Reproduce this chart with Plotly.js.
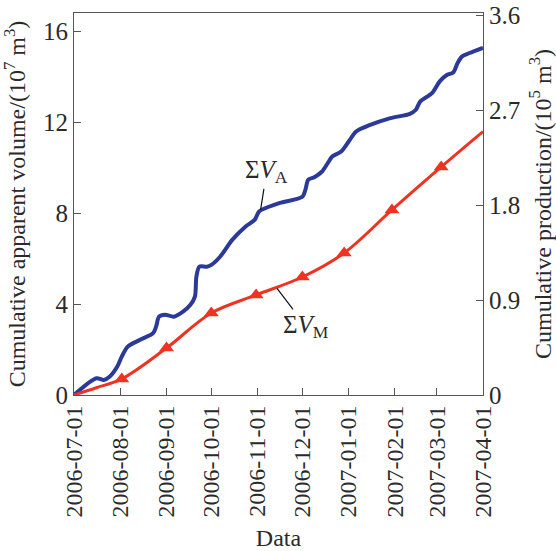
<!DOCTYPE html>
<html>
<head>
<meta charset="utf-8">
<script src="https://cdn.plot.ly/plotly-3.0.1.min.js"></script>
<style>
  html, body { margin: 0; padding: 0; background: #fff; }
  #chart { width: 556px; height: 551px; }
</style>
</head>
<body>
<div id="chart"></div>
<script>
// Cumulative apparent volume ΣV_A (10^7 m^3), left axis
const vaDates = [
  '2006-07-01','2006-07-16','2006-07-21','2006-07-25','2006-07-30','2006-08-02','2006-08-06',
  '2006-08-14','2006-08-23','2006-08-25','2006-08-27','2006-08-31','2006-09-06','2006-09-12',
  '2006-09-17','2006-09-20','2006-09-21','2006-09-23','2006-09-28','2006-10-01','2006-10-07',
  '2006-10-15','2006-10-24','2006-10-30','2006-11-02','2006-11-09','2006-11-16','2006-12-01',
  '2006-12-03','2006-12-05','2006-12-09','2006-12-14','2006-12-18','2006-12-21','2006-12-27',
  '2007-01-01','2007-01-06','2007-01-15','2007-01-29','2007-02-11','2007-02-15','2007-02-18',
  '2007-02-26','2007-03-03','2007-03-08','2007-03-12','2007-03-15','2007-03-18','2007-03-23',
  '2007-04-01'
];
const vaValues = [
  0, 0.74, 0.66, 0.81, 1.25, 1.69, 2.13,
  2.42, 2.72, 3.01, 3.45, 3.53, 3.45, 3.67,
  3.97, 4.33, 5.21, 5.65, 5.65, 5.73, 6.10,
  6.83, 7.42, 7.71, 8.08, 8.30, 8.46, 8.73,
  9.03, 9.48, 9.59, 9.83, 10.21, 10.50, 10.72,
  11.16, 11.60, 11.88, 12.19, 12.38, 12.56, 12.93,
  13.30, 13.81, 14.10, 14.20, 14.62, 14.91, 15.06,
  15.29
];

// Cumulative production ΣV_M (10^5 m^3), right axis
const vmDates = [
  '2006-07-01','2006-07-16','2006-08-02','2006-09-01','2006-10-01','2006-10-31',
  '2006-12-01','2006-12-29','2007-01-30','2007-03-04','2007-04-01'
];
const vmValues = [
  0, 0.069, 0.152, 0.445, 0.777, 0.948,
  1.118, 1.346, 1.754, 2.161, 2.496
];
// dates of the triangle markers on ΣV_M
const vmMarkerDates = [
  '2006-08-02','2006-09-01','2006-10-01','2006-10-31',
  '2006-12-01','2006-12-29','2007-01-30','2007-03-04'
];
const vmMarkerValues = [0.152, 0.445, 0.777, 0.948, 1.118, 1.346, 1.754, 2.161];

const xTicks = [
  '2006-07-01','2006-08-01','2006-09-01','2006-10-01','2006-11-01',
  '2006-12-01','2007-01-01','2007-02-01','2007-03-01','2007-04-01'
];
const yLeftTicks = [0, 4, 8, 12, 16];
const yRightTicks = [0, 0.9, 1.8, 2.7, 3.6];
const yRightTickText = ['0', '0.9', '1.8', '2.7', '3.6'];

const FONT = 'Liberation Serif, Times New Roman, Times, serif';
const BLUE = '#2b3a98';
const RED = '#ee3322';
const AXIS = '#555555';
const TXT = '#2a2a2a';

const traces = [
  {
    x: vaDates, y: vaValues, type: 'scatter', mode: 'lines',
    line: { color: BLUE, width: 4, shape: 'spline', smoothing: 0.8 },
    yaxis: 'y', hoverinfo: 'skip'
  },
  {
    x: vmDates, y: vmValues, type: 'scatter', mode: 'lines',
    line: { color: RED, width: 3, shape: 'spline', smoothing: 1 },
    yaxis: 'y2', hoverinfo: 'skip'
  },
  {
    x: vmMarkerDates, y: vmMarkerValues, type: 'scatter', mode: 'markers',
    marker: { symbol: 'triangle-up', size: 13, color: RED },
    yaxis: 'y2', hoverinfo: 'skip'
  }
];

const layout = {
  width: 556, height: 551,
  margin: { l: 74, r: 73, t: 13, b: 156, pad: 0 },
  paper_bgcolor: '#ffffff', plot_bgcolor: '#ffffff',
  showlegend: false,
  font: { family: FONT, size: 24, color: TXT },
  xaxis: {
    type: 'date',
    range: ['2006-07-01', '2007-04-01'],
    tickvals: xTicks, ticktext: xTicks,
    tickangle: -90,
    ticks: 'inside', ticklen: 7, tickcolor: AXIS, tickwidth: 1,
    showline: true, linecolor: AXIS, linewidth: 1, mirror: true,
    showgrid: false, zeroline: false,
    tickfont: { family: FONT, size: 24, color: TXT },
    title: { text: 'Data', font: { family: FONT, size: 24, color: TXT }, standoff: 14 }
  },
  yaxis: {
    range: [0, 16.82],
    tickvals: yLeftTicks,
    ticks: 'inside', ticklen: 7, tickcolor: AXIS, tickwidth: 1,
    showline: true, linecolor: AXIS, linewidth: 1,
    showgrid: false, zeroline: false,
    tickfont: { family: FONT, size: 25, color: TXT },
    title: { text: 'Cumulative apparent volume/(10<sup>7</sup> m<sup>3</sup>)',
             font: { family: FONT, size: 24, color: TXT }, standoff: 10 }
  },
  yaxis2: {
    overlaying: 'y', side: 'right',
    range: [0, 3.62],
    tickvals: yRightTicks, ticktext: yRightTickText,
    ticks: 'inside', ticklen: 7, tickcolor: AXIS, tickwidth: 1,
    showline: true, linecolor: AXIS, linewidth: 1,
    showgrid: false, zeroline: false,
    tickfont: { family: FONT, size: 25, color: TXT },
    title: { text: 'Cumulative production/(10<sup>5</sup> m<sup>3</sup>)',
             font: { family: FONT, size: 24, color: TXT }, standoff: 14 }
  },
  annotations: [
    {
      x: '2006-11-03', y: 8.15, xref: 'x', yref: 'y',
      text: 'Σ<i>V</i><sub>A</sub>',
      showarrow: true, arrowhead: 0, arrowwidth: 1.2, arrowcolor: '#111',
      ax: 6, ay: -38,
      font: { family: FONT, size: 25, color: TXT }
    },
    {
      x: '2006-11-14', y: 1.011, xref: 'x', yref: 'y2',
      text: 'Σ<i>V</i><sub>M</sub>',
      showarrow: true, arrowhead: 0, arrowwidth: 1.2, arrowcolor: '#111',
      ax: 29, ay: 38,
      font: { family: FONT, size: 25, color: TXT }
    }
  ]
};

Plotly.newPlot('chart', traces, layout, { staticPlot: true, displayModeBar: false });
</script>
</body>
</html>
